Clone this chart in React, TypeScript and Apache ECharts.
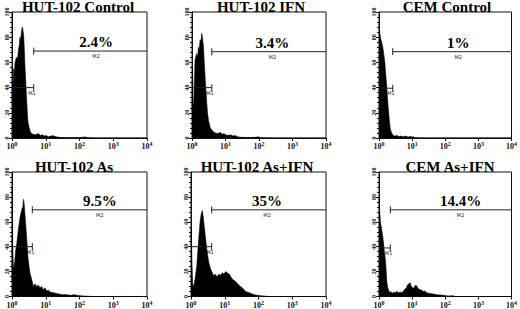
import React, { useEffect, useRef } from "react";
import * as echarts from "echarts";

// ---- data ----
const titles = ["HUT-102 Control", "HUT-102 IFN", "CEM Control", "HUT-102 As", "HUT-102 As+IFN", "CEM As+IFN"];
const pctLabels = ["2.4%", "3.4%", "1%", "9.5%", "35%", "14.4%"];
const pctAt = [310, 250, 245, 400, 180, 290];
const gateEdge = [4.4, 3.9, 2.6, 4.0, 4.1, 2.2];
const m1Level = [40, 40, 39.5, 40, 40, 39];
const m2Level = [69, 68.5, 68.5, 69.6, 69.6, 69.6];
const xTicks = [1, 10, 100, 1000, 10000];
const yTicks = [0, 20, 40, 60, 80, 100];

const hist1 = [[1.0, 30], [1.03, 46], [1.07, 40], [1.12, 55], [1.18, 52], [1.23, 60], [1.35, 64], [1.45, 62], [1.55, 70], [1.65, 74], [1.72, 80], [1.82, 78], [1.9, 84], [2.0, 88], [2.1, 86], [2.2, 82], [2.25, 78], [2.35, 66], [2.43, 56], [2.52, 48], [2.6, 40], [2.72, 30], [2.82, 22], [2.9, 16], [3.0, 12], [3.3, 7], [3.6, 4], [4.2, 3], [5, 2.5], [6, 3.5], [7, 2], [8, 2.5], [9, 1.5], [10, 2], [12, 1], [14, 1.5], [17, 1.8], [20, 1], [25, 0.5], [35, 0.3], [60, 0.2], [100, 0.3], [150, 0.8], [170, 0.2], [300, 0], [10000, 0]];
const hist2 = [[1.0, 20], [1.04, 56], [1.08, 30], [1.12, 22], [1.2, 50], [1.23, 62], [1.38, 67], [1.48, 64], [1.55, 72], [1.65, 70], [1.75, 78], [1.85, 76], [1.95, 83], [2.05, 80], [2.2, 72], [2.3, 62], [2.45, 49], [2.6, 38], [2.75, 28], [2.9, 20], [3.1, 14], [3.5, 8], [4.3, 5], [5, 4], [6, 3.5], [7, 4.5], [8, 3], [9, 3.5], [10, 2.5], [12, 2], [14, 2.5], [17, 1.5], [20, 2], [22, 1], [30, 0.5], [50, 0.4], [80, 0.5], [95, 1], [110, 0.2], [300, 0], [10000, 0]];
const hist3 = [[1.0, 90], [1.03, 86], [1.1, 80], [1.2, 76], [1.3, 72], [1.4, 66], [1.5, 60], [1.6, 50], [1.7, 42], [1.8, 32], [1.9, 24], [2.05, 14], [2.2, 7], [2.4, 4], [2.7, 2], [3, 1.5], [3.5, 2], [4, 1], [4.5, 1.5], [5.5, 1], [6.5, 1.5], [7.5, 0.8], [9, 1.2], [10, 0.8], [11, 1], [12, 0.2], [20, 0], [10000, 0]];
const hist4 = [[1.0, 12], [1.02, 87], [1.05, 40], [1.1, 22], [1.2, 28], [1.3, 38], [1.38, 42], [1.55, 54], [1.72, 63], [1.95, 70], [2.1, 72], [2.2, 78], [2.3, 74], [2.45, 64], [2.7, 48], [3.0, 30], [3.4, 19], [3.8, 14], [4.3, 8], [4.8, 10], [5.4, 8], [6, 9], [6.8, 7], [7.5, 8], [8.5, 5.5], [9.5, 7], [10.5, 4.5], [12, 5], [14, 3.5], [17, 3], [20, 2.5], [25, 2], [30, 1.5], [40, 1.5], [55, 1], [70, 1.5], [90, 0.8], [120, 0.5], [160, 0.3], [250, 0], [10000, 0]];
const hist5 = [[1.0, 40], [1.02, 55], [1.06, 30], [1.12, 10], [1.2, 8], [1.32, 14], [1.48, 24], [1.66, 43], [1.86, 60], [2.0, 66], [2.16, 69], [2.3, 64], [2.43, 58], [2.72, 46], [3.02, 35], [3.39, 27], [3.8, 22], [4.27, 19], [4.79, 16], [5.1, 18], [5.37, 17], [6.03, 16], [6.76, 18], [7.5, 17], [8.5, 19], [9.5, 18], [10.7, 20], [11.7, 19], [13.5, 18], [15, 16], [16.6, 14], [20.9, 12], [26.3, 9], [33, 7], [41.7, 4], [52.5, 3], [74, 1.5], [100, 0.8], [158, 0.3], [200, 0], [10000, 0]];
const hist6 = [[1.0, 80], [1.03, 70], [1.07, 66], [1.1, 60], [1.2, 54], [1.3, 48], [1.38, 42], [1.45, 36], [1.55, 30], [1.65, 20], [1.72, 12], [1.8, 8], [1.95, 5], [2.1, 3], [2.3, 4], [2.5, 2.5], [2.75, 3.5], [3.1, 3], [3.5, 4], [3.9, 3], [4.4, 3.5], [5, 3], [5.5, 4.5], [6.1, 6], [6.6, 6.5], [7.2, 9], [7.8, 10], [8.7, 11], [9.5, 8], [11, 6.5], [12.5, 9], [13.8, 8.5], [15.5, 6], [17.4, 5.5], [19.5, 5], [22, 4], [24, 4.5], [27.5, 3], [33, 2.5], [43.6, 2], [55, 1.5], [87, 1], [120, 0.4], [175, 0.6], [200, 0], [10000, 0]];
const hists = [hist1, hist2, hist3, hist4, hist5, hist6];

// ---- layout ----
const grids = [
  { left: 12, top: 12, width: 135, height: 126 },
  { left: 192, top: 12, width: 134, height: 126 },
  { left: 379, top: 12, width: 134, height: 126 },
  { left: 12, top: 172, width: 135, height: 125 },
  { left: 191, top: 172, width: 135, height: 125 },
  { left: 379, top: 172, width: 133, height: 125 },
];
const titleX = [78, 261, 447, 74, 257, 450];
const titleY = [-1, -1, -1, 159, 159, 159];

const SERIF = "'Liberation Serif', 'Times New Roman', serif";
const INK = "#111";

export default function App() {
  const ref = useRef<HTMLDivElement>(null);
  useEffect(() => {
    if (!ref.current) return;
    const chart = echarts.init(ref.current, undefined, { renderer: "svg" });
    const grid: any[] = [];
    const xAxis: any[] = [];
    const yAxis: any[] = [];
    const series: any[] = [];
    const graphic: any[] = [];
    for (let i = 0; i < 6; i++) {
      grid.push({ ...grids[i], show: true, borderColor: INK, borderWidth: 1, containLabel: false });
      xAxis.push({
        gridIndex: i,
        type: "log",
        logBase: 10,
        min: xTicks[0],
        max: xTicks[xTicks.length - 1],
        axisLine: { show: true, lineStyle: { color: INK, width: 1 } },
        axisTick: { show: true, length: 3, lineStyle: { color: INK } },
        splitLine: { show: false },
        axisLabel: {
          margin: 3,
          color: INK,
          fontFamily: SERIF,
          fontWeight: "bold",
          fontSize: 8,
          formatter: (v: number) => "10{s|" + Math.round(Math.log10(v)) + "}",
          rich: {
            s: { fontSize: 6, fontFamily: SERIF, fontWeight: "bold", color: INK, verticalAlign: "top", padding: [0, 0, 5, 0] },
          },
        },
      });
      yAxis.push({
        gridIndex: i,
        type: "value",
        min: yTicks[0],
        max: yTicks[yTicks.length - 1],
        interval: 20,
        axisLine: { show: true, lineStyle: { color: INK, width: 1 } },
        axisTick: { show: true, length: 3, lineStyle: { color: INK } },
        minorTick: { show: true, splitNumber: 5, length: 2, lineStyle: { color: INK } },
        splitLine: { show: false },
        axisLabel: { rotate: 90, margin: 2, color: INK, fontFamily: SERIF, fontWeight: "bold", fontSize: 6 },
      });
      series.push({
        type: "custom",
        xAxisIndex: i,
        yAxisIndex: i,
        z: 1,
        silent: true,
        data: [[gateEdge[i], m1Level[i], 1], [pctAt[i], m2Level[i], 2]],
        renderItem: (params: any, api: any) => {
          const p = api.coord([api.value(0), api.value(1)]);
          const which = api.value(2);
          return {
            type: "text",
            x: which === 1 ? p[0] + 2 : p[0],
            y: p[1] + 2.5,
            style: {
              text: "M" + which,
              fill: "#222",
              font: "5px 'DejaVu Sans', sans-serif",
              textAlign: which === 1 ? "right" : "center",
              textVerticalAlign: "top",
            },
          };
        },
      });
      series.push({
        type: "line",
        xAxisIndex: i,
        yAxisIndex: i,
        z: 2,
        data: hists[i],
        symbol: "none",
        smooth: false,
        lineStyle: { color: "#000", width: 0.6 },
        areaStyle: { color: "#000", opacity: 1 },
        silent: true,
      });
      series.push({
        type: "custom",
        xAxisIndex: i,
        yAxisIndex: i,
        z: 3,
        silent: true,
        data: [
          [xTicks[0], gateEdge[i], m1Level[i], 1],
          [gateEdge[i], xTicks[xTicks.length - 1], m2Level[i], 2],
        ],
        renderItem: (params: any, api: any) => {
          const a = api.coord([api.value(0), api.value(2)]);
          const b = api.coord([api.value(1), api.value(2)]);
          const which = api.value(3);
          const st = { stroke: "#222", lineWidth: 1 };
          const children: any[] = [
            { type: "line", shape: { x1: a[0], y1: a[1], x2: b[0], y2: b[1] }, style: st },
          ];
          if (which === 1) {
            children.push({ type: "line", shape: { x1: b[0], y1: b[1] - 3.5, x2: b[0], y2: b[1] + 3.5 }, style: st });
          } else {
            children.push({ type: "line", shape: { x1: a[0], y1: a[1] - 3.5, x2: a[0], y2: a[1] + 3.5 }, style: st });
            const c = api.coord([pctAt[i], api.value(2)]);
            children.push({
              type: "text",
              x: c[0],
              y: c[1] - 9,
              style: {
                text: pctLabels[i],
                fill: "#000",
                font: "bold 15px " + SERIF,
                textAlign: "center",
                textVerticalAlign: "middle",
              },
            });
          }
          return { type: "group", children };
        },
      });
      graphic.push({
        type: "text",
        x: titleX[i],
        y: titleY[i],
        style: {
          text: titles[i],
          fill: "#000",
          font: "bold 15px " + SERIF,
          textAlign: "center",
          textVerticalAlign: "top",
        },
      });
    }
    chart.setOption({
      animation: false,
      backgroundColor: "#fff",
      grid,
      xAxis,
      yAxis,
      series,
      graphic,
    });
    return () => chart.dispose();
  }, []);
  return (
    <div
      ref={ref}
      style={{ position: "absolute", left: 0, top: 0, width: 520, height: 309 }}
    />
  );
}
